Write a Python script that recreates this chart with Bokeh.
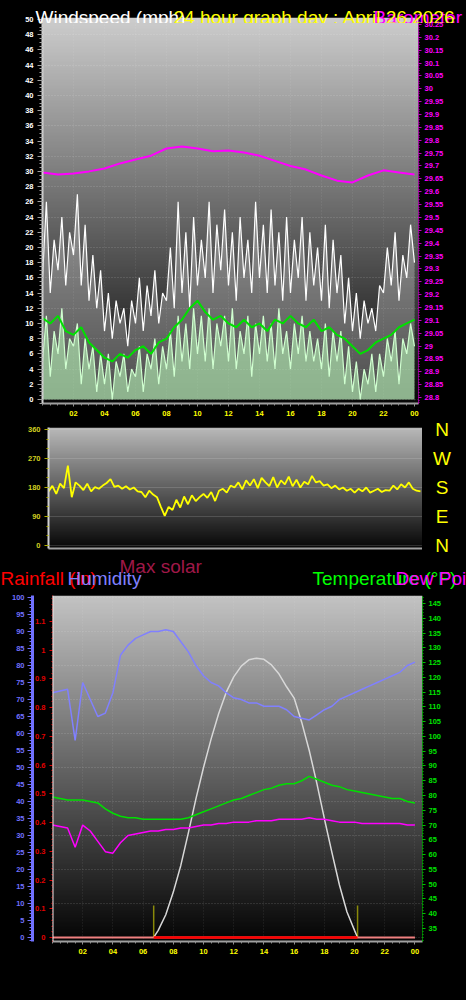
import numpy as np
from bokeh.plotting import figure
from bokeh.layouts import column, row
from bokeh.models import (Range1d, LinearAxis, SingleIntervalTicker, FixedTicker,
                          CustomJSTickFormatter, Label, Span)
from bokeh.embed import file_html
from bokeh.resources import INLINE

# ---------------- data ----------------
title_text = "24 hour graph day : April 26 2026"
hour_ticks = [2, 4, 6, 8, 10, 12, 14, 16, 18, 20, 22, 24]
compass = ["N", "W", "S", "E", "N"]
compass_deg = [360, 270, 180, 90, 0]

# wind (mph), every 15 minutes 00:00 .. 24:00
wind_gust = [16, 26, 14, 21, 17, 24, 15, 22,
             19, 27, 15, 23, 13, 19, 12, 17,
             9, 14, 8, 13, 10, 12, 7, 13,
             10, 16, 9, 15, 11, 17, 10, 14,
             13, 20, 12, 26, 14, 22, 12, 24,
             15, 21, 16, 26, 14, 23, 17, 25,
             15, 22, 13, 24, 16, 21, 14, 26,
             16, 23, 14, 25, 15, 22, 13, 24,
             14, 21, 16, 24, 13, 22, 15, 20,
             13, 23, 12, 21, 14, 19, 10, 16,
             9, 14, 8, 13, 10, 12, 9, 15,
             14, 20, 15, 22, 13, 19, 16, 23, 18]
wind_speed = [5, 11, 3, 9, 6, 12, 4, 8,
              7, 10, 2, 8, 4, 7, 1, 6,
              2, 6, 0, 5, 3, 6, 1, 4,
              3, 7, 1, 6, 4, 8, 2, 7,
              4, 9, 3, 11, 5, 10, 4, 12,
              6, 11, 5, 12, 4, 10, 7, 11,
              5, 12, 4, 9, 6, 11, 3, 10,
              6, 11, 5, 10, 4, 12, 6, 9,
              4, 10, 6, 11, 5, 9, 5, 8,
              4, 10, 3, 9, 5, 9, 2, 7,
              1, 5, 0, 4, 2, 6, 1, 6,
              3, 8, 5, 9, 2, 8, 6, 10, 7]
# average wind speed, every 30 minutes
wind_avg = [10.7, 10.0, 11.0, 9.0, 8.5, 9.5, 7.5, 6.5, 5.5, 5.0, 6.0, 5.5, 6.5,
            7.0, 6.0, 7.5, 8.0, 9.5, 10.5, 12.0, 13.0, 11.5, 10.5, 11.0, 10.0,
            9.5, 10.5, 9.5, 10.0, 9.0, 10.5, 10.0, 11.0, 10.0, 9.5, 10.5, 9.0,
            9.5, 8.5, 8.0, 7.0, 6.0, 6.5, 7.5, 8.0, 8.5, 9.5, 10.0, 10.5]
# barometer (inHg), hourly
barometer = [29.675, 29.667, 29.671, 29.679, 29.690, 29.710, 29.725, 29.740,
             29.768, 29.776, 29.768, 29.757, 29.760, 29.752, 29.740, 29.720,
             29.700, 29.686, 29.663, 29.643, 29.636, 29.663, 29.683, 29.675, 29.667]
# wind direction (degrees), every 15 minutes
wind_dir = [168, 185, 160, 192, 178, 248, 150, 196,
            186, 172, 192, 168, 181, 176, 186, 194,
            206, 182, 186, 176, 184, 174, 180, 168,
            166, 150, 170, 158, 150, 120, 92, 120,
            110, 142, 118, 152, 128, 156, 138, 150,
            160, 148, 166, 138, 170, 176, 164, 186,
            180, 196, 174, 202, 186, 206, 178, 210,
            196, 184, 212, 180, 202, 190, 214, 184,
            204, 180, 198, 190, 216, 196, 200, 186,
            190, 178, 186, 174, 180, 170, 176, 164,
            176, 168, 180, 164, 170, 176, 166, 172,
            170, 186, 174, 190, 180, 196, 176, 170, 168]
# every 30 minutes
humidity = [72, 72.5, 73, 58, 75, 70, 65, 66, 72, 83, 86, 88, 89, 90, 90, 90.5, 90,
            87, 84, 80, 77, 75, 74, 72, 70.5, 70, 69, 69, 68, 68, 68, 67, 65, 64.5,
            64, 65.5, 67, 68, 70, 71, 72, 73, 74, 75, 76, 77, 78, 80, 81]
temperature = [79.5, 79, 78.5, 78.5, 78.5, 78, 77.5, 75.5, 74, 73, 72.5, 72.5, 72,
               72, 72, 72, 72, 72, 72.5, 73.5, 74.5, 75.5, 76.5, 77.5, 78.5, 79, 80,
               81, 82, 82.5, 83.5, 84, 84, 85, 86.5, 85.5, 84.5, 83.5, 83, 82, 81.5,
               81, 80.5, 80, 79.5, 79, 79, 78, 77.5]
dew_point = [70, 69.5, 69, 62.5, 70, 68, 64.5, 61, 60.5, 64, 66.5, 67, 67.5, 68, 68,
             68.5, 68.5, 69, 69, 69.5, 70, 70, 70.5, 70.5, 71, 71, 71, 71.5, 71.5,
             71.5, 72, 72, 72, 72, 72.5, 72, 72, 71.5, 71, 71, 71, 70.5, 70.5, 70.5,
             70.5, 70.5, 70.5, 70, 70]
solar_hours = [6.7, 7.0, 7.5, 8.0, 8.5, 9.0, 9.5, 10.0, 10.5, 11.0, 11.5, 12.0, 12.5,
               13.0, 13.5, 14.0, 14.5, 15.0, 15.5, 16.0, 16.5, 17.0, 17.5, 18.0,
               18.5, 19.0, 19.5, 20.0, 20.2]
solar_wm2 = [0, 25, 80, 160, 255, 370, 490, 600, 700, 790, 865, 920, 958, 980, 986,
             982, 962, 930, 885, 845, 760, 660, 545, 420, 300, 185, 90, 25, 0]
sunrise = 6.7
sunset = 20.2
sun_marker = 9.5
rain_hours = [0, 6, 12, 18, 24]
rain_in = [0.0, 0.0, 0.0, 0.0, 0.0]

t15 = np.arange(len(wind_gust)) * 0.25
t30 = np.arange(len(humidity)) * 0.5
t60 = np.arange(len(barometer)) * 1.0

FONT = "Liberation Sans"
W = 466
hour_fmt = CustomJSTickFormatter(code="const h = Math.round(tick) % 24; return (h < 10 ? '0' : '') + h;")
num_fmt = CustomJSTickFormatter(code="return String(Math.round(tick * 100) / 100);")


def gradient(top, bottom, n=256):
    f = np.linspace(0.0, 1.0, n)[:, None]
    rgb = np.array(bottom)[None, :] + (np.array(top) - np.array(bottom))[None, :] * f
    img = np.empty((n, 1), dtype=np.uint32)
    v = img.view(dtype=np.uint8).reshape((n, 1, 4))
    v[:, 0, 0:3] = rgb.astype(np.uint8)
    v[:, 0, 3] = 255
    return img


def style(ax, label_color, tick_color, line_color, line_width=1, line_dash="solid",
          standoff=4, tick_out=4, minor_out=2, size="7.5px"):
    ax.major_label_text_color = label_color
    ax.major_label_text_font = FONT
    ax.major_label_text_font_style = "bold"
    ax.major_label_text_font_size = size
    ax.major_label_standoff = standoff
    ax.major_tick_line_color = tick_color
    ax.minor_tick_line_color = tick_color
    ax.major_tick_in = 0
    ax.minor_tick_in = 0
    ax.major_tick_out = tick_out
    ax.minor_tick_out = minor_out
    ax.axis_line_color = line_color
    ax.axis_line_width = line_width
    ax.axis_line_dash = line_dash


def make_fig(**kw):
    p = figure(output_backend="svg", toolbar_location=None, frame_align=False, **kw)
    p.background_fill_color = "black"
    p.border_fill_color = "black"
    p.outline_line_color = None
    return p


def header(top_px, bottom_px):
    """A text-only strip whose data coordinates are page pixels."""
    p = make_fig(width=W, height=bottom_px - top_px, x_range=Range1d(0, W),
                 y_range=Range1d(bottom_px, top_px), x_axis_location=None,
                 y_axis_location=None, min_border=0)
    p.grid.visible = False
    return p


def txt(p, x, y, text, color, size="19px", align="left", baseline="alphabetic"):
    p.add_layout(Label(x=x, y=y, text=text, text_color=color, text_font=FONT,
                       text_font_size=size, text_align=align, text_baseline=baseline))


def grid_style(p, yticker, xticks):
    p.ygrid.ticker = yticker
    p.ygrid.grid_line_color = "#ffffff"
    p.ygrid.grid_line_alpha = 0.22
    p.ygrid.grid_line_dash = "1 2"
    p.xgrid.ticker = FixedTicker(ticks=xticks)
    p.xgrid.grid_line_color = "#ffffff"
    p.xgrid.grid_line_alpha = 0.12
    p.xgrid.grid_line_dash = "1 2"


# ---------------- header 1 (transparent, drawn over the top of panel 1) ----------------
h1 = header(0, 23)
h1.background_fill_color = None
h1.border_fill_color = None
h1.styles = {"position": "relative", "z-index": "2"}
txt(h1, 35, 17.3, "Windspeed (mph)", "white")
txt(h1, 373, 17.3, "Barometer (inHg)", "#ff00ff")
txt(h1, 173, 17.3, title_text, "#ffff00")

# ---------------- panel 1 : wind speed + barometer ----------------
X1 = (0, 24.26)
Y1 = (-0.53, 50.26)
p1 = make_fig(width=W, height=404, x_range=Range1d(*X1), y_range=Range1d(*Y1),
              min_border_left=42, min_border_right=48, min_border_top=1, min_border_bottom=17)
p1.styles = {"margin-top": "-7px"}
p1.extra_y_ranges = {"baro": Range1d(28.777, 30.277)}
p1.image_rgba(image=[gradient((205, 205, 205), (8, 8, 8))], x=X1[0], y=Y1[0],
              dw=X1[1] - X1[0], dh=Y1[1] - Y1[0], level="image")
p1.varea(x=t15, y1=wind_speed, y2=wind_gust, fill_color="#ffffff", fill_alpha=0.28)
p1.line(t15, wind_gust, line_color="white", line_width=1.2)
p1.varea(x=t15, y1=0, y2=wind_speed, fill_color="#c0f4c0", fill_alpha=0.72)
p1.line(t15, wind_speed, line_color="#d0ffd0", line_width=1.2)
p1.line(t30, wind_avg, line_color="#00e000", line_width=2)
p1.line(t60, barometer, line_color="#ff00ff", line_width=2, y_range_name="baro")

ax = p1.yaxis[0]
ax.ticker = SingleIntervalTicker(interval=2, num_minor_ticks=4)
style(ax, "white", "#a0a0a0", "#d0d0d0", line_width=2, standoff=4, tick_out=5, minor_out=3)
bx = p1.xaxis[0]
bx.ticker = FixedTicker(ticks=hour_ticks, minor_ticks=list(np.arange(0, 24.5, 0.5)))
bx.formatter = hour_fmt
style(bx, "#ffff00", "#909090", "#a0a0a0", line_width=2, standoff=4, tick_out=3, minor_out=2)
rax = LinearAxis(y_range_name="baro", ticker=SingleIntervalTicker(interval=0.05, num_minor_ticks=5),
                 formatter=num_fmt)
style(rax, "#ff00ff", "#c000c0", "#ff00ff", line_width=1, line_dash="1 1", standoff=3, tick_out=3, minor_out=1)
p1.add_layout(rax, "right")
grid_style(p1, SingleIntervalTicker(interval=4), hour_ticks)

# ---------------- panel 2 : wind direction ----------------
X2 = (0, 24.13)
Y2 = (-9.3, 366.2)
p2 = make_fig(width=422, height=132, x_range=Range1d(*X2), y_range=Range1d(*Y2),
              min_border_left=48, min_border_right=0, min_border_top=7, min_border_bottom=4)
p2.image_rgba(image=[gradient((185, 185, 185), (6, 6, 6))], x=X2[0], y=Y2[0],
              dw=X2[1] - X2[0], dh=Y2[1] - Y2[0], level="image")
p2.line(t15, wind_dir, line_color="#ffff00", line_width=1.8)
ay = p2.yaxis[0]
ay.ticker = SingleIntervalTicker(interval=90, num_minor_ticks=3)
style(ay, "#d0d020", "#b0b000", "#d0d0d0", line_width=2, standoff=4, tick_out=4, minor_out=2)
ax2 = p2.xaxis[0]
ax2.ticker = FixedTicker(ticks=[])
style(ax2, "#ffff00", "#909090", "#a0a0a0", line_width=2, standoff=0, tick_out=0, minor_out=0)
p2.ygrid.grid_line_color = "#e0e0e0"
p2.ygrid.grid_line_alpha = 0.35
p2.ygrid.grid_line_dash = "1 1"
p2.xgrid.grid_line_color = None

# compass letters beside panel 2 (same vertical scale, frame spans the whole strip)
px_per_deg = 121 / (Y2[1] - Y2[0])
p2b = make_fig(width=W - 422, height=132, x_range=Range1d(0, W - 422),
               y_range=Range1d(Y2[0] - 4 / px_per_deg, Y2[1] + 7 / px_per_deg),
               x_axis_location=None, y_axis_location=None, min_border=0)
p2b.grid.visible = False
for letter, deg in zip(compass, compass_deg):
    txt(p2b, 19.5, deg, letter, "#ffff00", align="center", baseline="middle")

# ---------------- header 3 ----------------
h3 = header(552, 590)
txt(h3, 119, 566, "Max solar", "#a01848")
txt(h3, 0, 578, "Rainfall (in)", "#ff0000")
txt(h3, 67, 578, "Humidity", "#8080ff")
txt(h3, 312, 578, "Temperature (°F)", "#00ff00")
txt(h3, 395, 578, "Dew Point (°F)", "#ff00ff")

# ---------------- panel 3 : temperature / humidity / rain / solar ----------------
X3 = (0, 24.5)
Y3 = (-1.2, 100.6)
p3 = make_fig(width=W, height=410, x_range=Range1d(*X3), y_range=Range1d(*Y3),
              y_axis_location=None,
              min_border_left=52, min_border_right=44, min_border_top=5, min_border_bottom=59)
p3.extra_y_ranges = {"rain": Range1d(-0.0139, 1.190), "temp": Range1d(30.6, 147.7),
                     "solar": Range1d(-14.4, 1207.2)}
p3.image_rgba(image=[gradient((195, 195, 195), (5, 5, 5))], x=X3[0], y=Y3[0],
              dw=X3[1] - X3[0], dh=Y3[1] - Y3[0], level="image")
p3.line(solar_hours, solar_wm2, y_range_name="solar", line_color="#d8d8d8", line_width=1.5)
p3.line(t30, humidity, line_color="#8080ff", line_width=1.5)
p3.line(t30, temperature, y_range_name="temp", line_color="#00e000", line_width=1.5)
p3.line(t30, dew_point, y_range_name="temp", line_color="#ff00ff", line_width=1.5)
p3.segment(x0=[sunrise, sunset], y0=[0, 0], x1=[sunrise, sunset], y1=[sun_marker, sun_marker],
           line_color="#ffff00", line_width=1.5, line_dash="1 1")
p3.line(rain_hours, rain_in, y_range_name="rain", line_color="#f08080", line_width=2)
p3.line([sunrise, sunset], [rain_in[0], rain_in[-1]], y_range_name="rain",
        line_color="#ff0000", line_width=2.5)

rain_ax = LinearAxis(y_range_name="rain", ticker=SingleIntervalTicker(interval=0.1, num_minor_ticks=5),
                     formatter=num_fmt)
style(rain_ax, "#e00000", "#e00000", "#e00000", line_width=1, line_dash="1 2", standoff=4, tick_out=3, minor_out=1)
p3.add_layout(rain_ax, "left")
hum_ax = LinearAxis(ticker=SingleIntervalTicker(interval=5, num_minor_ticks=5))
style(hum_ax, "#7070ff", "#7070ff", "#7070ff", line_width=3, standoff=3, tick_out=5, minor_out=3)
p3.add_layout(hum_ax, "left")
temp_ax = LinearAxis(y_range_name="temp", ticker=SingleIntervalTicker(interval=5, num_minor_ticks=5))
style(temp_ax, "#00e000", "#00c000", "#00e000", line_width=1, line_dash="1 1", standoff=3, tick_out=3, minor_out=1)
p3.add_layout(temp_ax, "right")
bx3 = p3.xaxis[0]
bx3.ticker = FixedTicker(ticks=hour_ticks, minor_ticks=list(np.arange(0, 24.5, 0.5)))
bx3.formatter = hour_fmt
style(bx3, "#ffff00", "#909090", "#a0a0a0", line_width=2, standoff=4, tick_out=3, minor_out=2)
p3.add_layout(Span(location=0, dimension="height", line_color="#e8e8e8", line_width=2))
grid_style(p3, SingleIntervalTicker(interval=10), hour_ticks)

layout = column(h1, p1, row(p2, p2b, spacing=0), h3, p3, spacing=0, background="black")
open("out.html", "w").write(file_html(layout, INLINE, title="24 hour graph"))
